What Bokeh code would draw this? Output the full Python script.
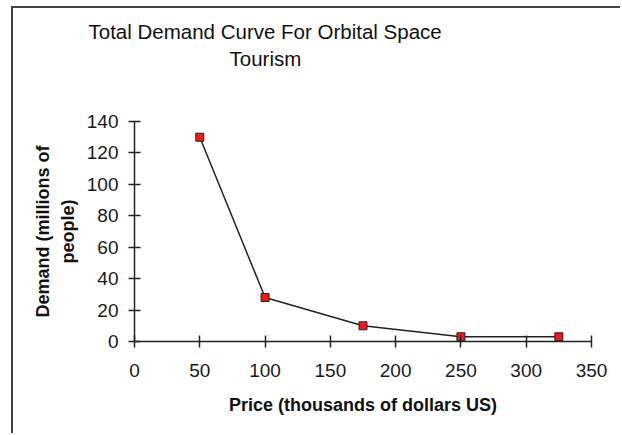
from bokeh.plotting import figure
from bokeh.models import Range1d, Title, FixedTicker
from bokeh.embed import file_html
from bokeh.resources import INLINE

# Data
price = [50, 100, 175, 250, 325]
demand = [130, 28, 10, 3, 3]
x_ticks = [0, 50, 100, 150, 200, 250, 300, 350]
y_ticks = [0, 20, 40, 60, 80, 100, 120, 140]
title_lines = ["Total Demand Curve For Orbital Space", "Tourism"]
x_label = "Price (thousands of dollars US)"
y_label = "Demand (millions of\npeople)"

FONT = "Liberation Sans"

p = figure(width=609, height=427, output_backend="svg", toolbar_location=None,
           x_range=Range1d(0, 350), y_range=Range1d(0, 140),
           min_border_left=121, min_border_right=31,
           min_border_top=113, min_border_bottom=94,
           styles={"border-left": "2px solid #444444",
                   "border-top": "2px solid #444444",
                   "margin-left": "11px", "margin-top": "6px"})
p.title.visible = False
p.outline_line_color = None
p.grid.visible = False
p.background_fill_color = "white"
p.border_fill_color = "white"

for ax in (p.xaxis[0], p.yaxis[0]):
    ax.axis_line_color = "#222222"
    ax.axis_line_width = 1.5
    ax.major_tick_line_color = "#222222"
    ax.major_tick_line_width = 1.5
    ax.major_tick_in = 6
    ax.major_tick_out = 6
    ax.minor_tick_line_color = None
    ax.major_label_text_font = FONT
    ax.major_label_text_font_size = "19px"
    ax.major_label_text_color = "#1a1a1a"
    ax.axis_label_text_font = FONT
    ax.axis_label_text_font_size = "18px"
    ax.axis_label_text_font_style = "bold"
    ax.axis_label_text_color = "#111111"

p.xaxis[0].ticker = FixedTicker(ticks=x_ticks)
p.yaxis[0].ticker = FixedTicker(ticks=y_ticks)
p.xaxis[0].major_label_standoff = 16
p.yaxis[0].major_label_standoff = 10
p.xaxis[0].axis_label = x_label
p.xaxis[0].axis_label_standoff = 15
p.yaxis[0].axis_label = y_label
p.yaxis[0].axis_label_standoff = 6
p.yaxis[0].axis_label_text_line_height = 1.25

p.line(price, demand, line_color="#222222", line_width=1.5)
p.scatter(price, demand, marker="square", size=8, fill_color="#f01818",
          line_color="#222222", line_width=1)

# Title (two lines, stacked above the plot, with a spacer below them)
spacer = Title(text=" ", text_font_size="10px", standoff=38)
t2 = Title(text=title_lines[1], align="left", offset=95, text_font=FONT,
           text_font_size="20.5px", text_font_style="normal",
           text_color="#111111", standoff=2)
t1 = Title(text=title_lines[0], align="left", offset=-46, text_font=FONT,
           text_font_size="20.5px", text_font_style="normal",
           text_color="#111111", standoff=2)
p.add_layout(spacer, "above")
p.add_layout(t2, "above")
p.add_layout(t1, "above")

open("out.html", "w").write(file_html(p, INLINE))
